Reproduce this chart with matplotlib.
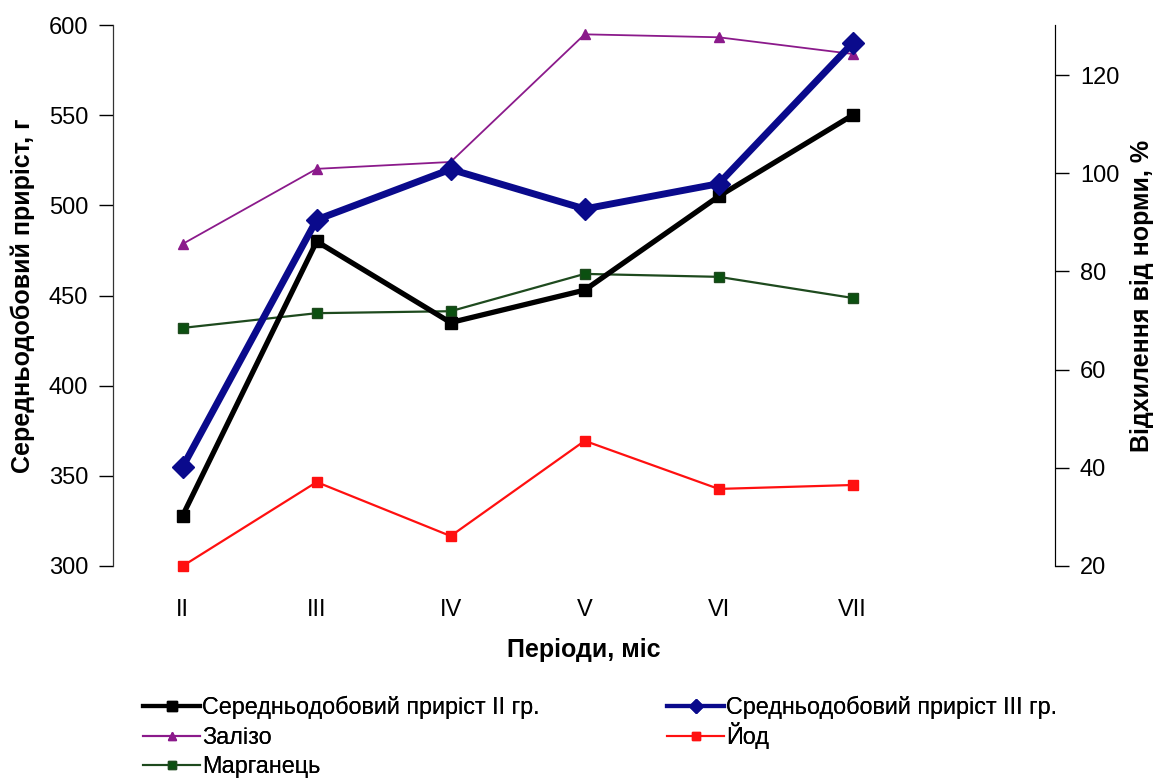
import matplotlib
matplotlib.use("Agg")
import matplotlib.pyplot as plt
from matplotlib.lines import Line2D

plt.rcParams['font.family'] = ['Liberation Sans', 'DejaVu Sans']

periods = ["II", "III", "IV", "V", "VI", "VII"]
gain_gr2 = [328, 480, 435, 453, 505, 550]
gain_gr3 = [355, 492, 520, 498, 512, 590]
iron = [85.6, 100.9, 102.3, 128.3, 127.7, 124.3]
iodine = [20.0, 37.1, 26.1, 45.5, 35.7, 36.5]
manganese = [68.5, 71.5, 71.9, 79.5, 78.9, 74.6]

labels = ["Середньодобовий приріст II гр.", "Средньодобовий приріст III гр.",
          "Залізо", "Йод", "Марганець"]

fig = plt.figure(figsize=(11.58, 7.8), dpi=100)
ax = fig.add_axes([113/1158, 1-566/780, (1055-113)/1158, (566-25)/780])
ax2 = ax.twinx()

x = list(range(len(periods)))

ax2.plot(x, iron, color='#8B1A8B', lw=1.3, marker='^', ms=7, zorder=2, clip_on=False)
ax2.plot(x, iodine, color='#FF1010', lw=1.6, marker='s', ms=7, zorder=2, clip_on=False)
ax2.plot(x, manganese, color='#1E4A1E', lw=1.6, marker='s', ms=6.5,
         markerfacecolor='#0B5010', zorder=2, clip_on=False)

ax.plot(x, gain_gr2, color='black', lw=3.8, marker='s', ms=9, zorder=3, clip_on=False)
ax.plot(x, gain_gr3, color='#0A0A8C', lw=5, marker='D', ms=11, zorder=4, clip_on=False)
ax.set_zorder(ax2.get_zorder() + 1)
ax.patch.set_visible(False)

ax.set_xlim(-0.52, 6.51)
ax.set_ylim(300, 600)
ax2.set_ylim(20, 130.2)
ax.set_yticks([300, 350, 400, 450, 500, 550, 600])
ax2.set_yticks([20, 40, 60, 80, 100, 120])
ax.set_xticks(x)
ax.set_xticklabels(periods)

for a in (ax, ax2):
    a.spines['top'].set_visible(False)
    a.spines['bottom'].set_visible(False)
    a.tick_params(axis='y', labelsize=17, length=10, width=1, direction='out', pad=8)
ax.tick_params(axis='x', length=0, labelsize=17, pad=24)
ax.spines['left'].set_color('#333333')
ax2.spines['right'].set_color('#333333')

ax.set_ylabel("Середньодобовий приріст, г", fontsize=18, fontweight='bold', labelpad=10)
ax2.set_ylabel("Відхилення від норми, %", fontsize=18, fontweight='bold', labelpad=8)
ax.set_xlabel("Періоди, міс", fontsize=18, fontweight='bold', labelpad=12)

handles = [
    Line2D([], [], color='black', lw=3, marker='s', ms=7),
    Line2D([], [], color='#0A0A8C', lw=3, marker='D', ms=7),
    Line2D([], [], color='#8B1A8B', lw=1.5, marker='^', ms=6),
    Line2D([], [], color='#FF1010', lw=1.5, marker='s', ms=6),
    Line2D([], [], color='#1E4A1E', lw=1.5, marker='s', ms=6, markerfacecolor='#0B5010'),
]
# legend entry placement (pixels): (left x, row centre y)
slots = [(143, 706), (667, 706), (143, 736), (667, 736), (143, 765)]
for h, lab, (px, py) in zip(handles, labels, slots):
    lg = fig.legend([h], [lab], loc='lower left',
                    bbox_to_anchor=(px/1158, 1-(py+13)/780),
                    frameon=False, handlelength=2.45, handletextpad=0.1,
                    borderpad=0, borderaxespad=0,
                    prop={'family': ['Liberation Sans', 'DejaVu Sans'], 'size': 16.8})
    fig.add_artist(lg)

fig.savefig("out.png", dpi=100)
